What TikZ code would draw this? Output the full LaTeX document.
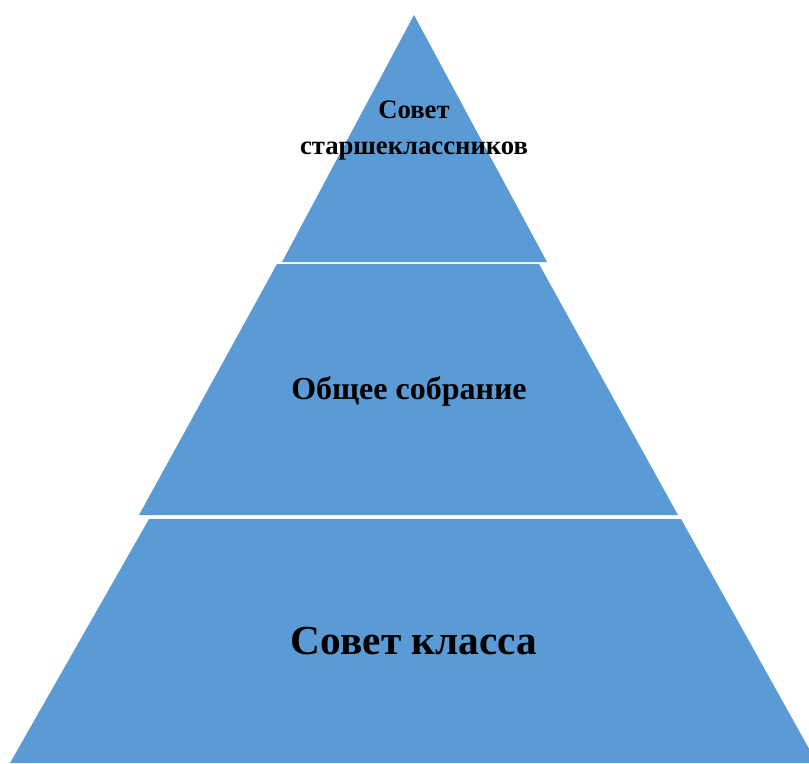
\documentclass[tikz,border=0pt]{standalone}
\usepackage{fontspec}
\setmainfont{Liberation Serif}
\usetikzlibrary{positioning}
\definecolor{tierblue}{HTML}{5B9BD5}
\tikzset{
 tier/.style={fill=tierblue, draw=none},
 tiertext/.style={text=black, align=center, anchor=base, inner sep=0pt}
}

\begin{document}
\begin{tikzpicture}[x=0.75pt,y=-0.75pt]
\useasboundingbox (0,0) rectangle (809,763);
\clip (0,0) rectangle (809,763);

% tiers of the pyramid
\fill[tier] (414,15) -- (547,262) -- (282,262) -- cycle;
\fill[tier] (277,264) -- (539,264) -- (678,515) -- (139,515) -- cycle;
\fill[tier] (149,519) -- (681,519) -- (817,763) -- (10,763) -- cycle;

% labels
\path (414,155) node[name=top, tiertext, font=\fontsize{20}{27.75}\selectfont\bfseries] {Совет\\старшеклассников};
\path (409,399) node[name=mid, tiertext, font=\fontsize{24}{28}\selectfont\bfseries] {Общее собрание};
\path (414,654) node[name=low, tiertext, font=\fontsize{31}{36}\selectfont\bfseries] {Совет класса};
\end{tikzpicture}
\end{document}
